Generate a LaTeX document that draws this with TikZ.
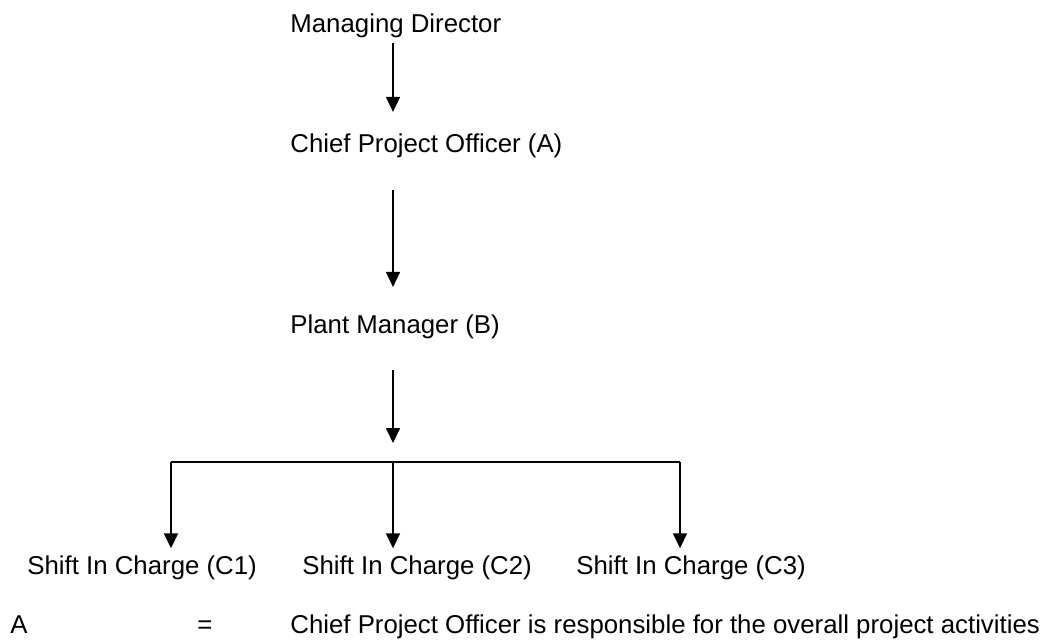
\documentclass[tikz,border=0pt]{standalone}
\usepackage{fontspec}
\setmainfont{Liberation Sans}
\usetikzlibrary{arrows.meta}
\tikzset{lbl/.style={anchor=base west,inner sep=0pt,font=\fontsize{12.9}{15}\selectfont},
 arr/.style={-{Triangle[length=7.5pt,width=7pt]},line width=0.85pt}}

\begin{document}
\begin{tikzpicture}[x=0.5pt,y=-0.5pt]
\useasboundingbox (0,0) rectangle (1050,639);
\node[lbl] (md) at (290,32) {Managing Director};
\node[lbl] (cpo) at (290,152) {Chief Project Officer (A)};
\node[lbl] (pm) at (290,333) {Plant Manager (B)};
\node[lbl] (c1) at (27,574) {Shift In Charge (C1)};
\node[lbl] (c2) at (302,574) {Shift In Charge (C2)};
\node[lbl] (c3) at (576,574) {Shift In Charge (C3)};
% key under the chart
\node[lbl] (key) at (10,633) {A};
\node[lbl] (eq) at (197,633) {=};
\node[lbl] (note) at (290,633) {Chief Project Officer is responsible for the overall project activities};
\coordinate (b1) at (171,462);
\coordinate (b2) at (393,462);
\coordinate (b3) at (680,462);
\draw[arr,shorten <=2.8pt,shorten >=10.5pt] (md.south -| b2) -- (cpo.north -| b2);
\draw[arr,shorten <=16.3pt,shorten >=13.5pt] (cpo.south -| b2) -- (pm.north -| b2);
\draw[arr,shorten <=15.8pt,shorten >=9.5pt] (pm.south -| b2) -- (b2);
\draw[line width=0.85pt] (b1) -- (b3);
\foreach \b/\c in {b1/c1,b2/c2,b3/c3} % one drop per shift
\draw[arr,shorten >=3.3pt] (\b) -- (\b |- \c.north);
\end{tikzpicture}
\end{document}
